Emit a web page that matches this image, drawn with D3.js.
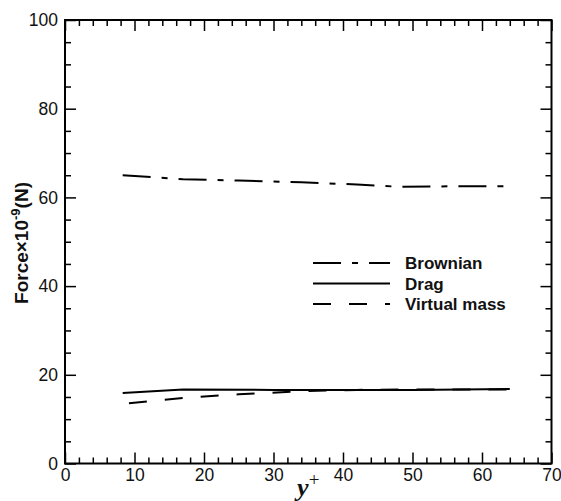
<!DOCTYPE html>
<html>
<head>
<meta charset="utf-8">
<script src="https://cdn.jsdelivr.net/npm/d3@7"></script>
<style>
body { margin: 0; background: #fff; }
svg { display: block; font-family: 'Liberation Sans', Arial, sans-serif; }
</style>
</head>
<body>
<svg width="561" height="501"></svg>
<script>
// Chart values
var brownianX = [8.3, 17, 25, 34, 42, 48, 56, 64];
var brownianY = [65.0, 64.1, 63.8, 63.4, 62.9, 62.4, 62.5, 62.5];
var dragX = [8.3, 17, 30, 40, 50, 64];
var dragY = [15.9, 16.7, 16.6, 16.6, 16.6, 16.8];
var vmassX = [9.2, 17, 25, 34, 42, 50, 64];
var vmassY = [13.6, 14.8, 15.6, 16.3, 16.6, 16.7, 16.7];

var seriesNames = ['Brownian', 'Drag', 'Virtual mass'];
var xTicks = [0, 10, 20, 30, 40, 50, 60, 70];
var yTicks = [0, 20, 40, 60, 80, 100];

var svg = d3.select('svg');
var padding = {t: 20, r: 9.5, b: 37.5, l: 65};
var svgWidth = +svg.attr('width');
var svgHeight = +svg.attr('height');

var xScale = d3.scaleLinear().domain([0, 70]).range([padding.l, svgWidth - padding.r]);
var yScale = d3.scaleLinear().domain([0, 100]).range([svgHeight - padding.b, padding.t]);

var x0 = xScale.range()[0], x1 = xScale.range()[1];
var y0 = yScale.range()[0], y1 = yScale.range()[1];

var xMinor = d3.range(0, 71, 2).filter(function(d) { return d % 10 !== 0; });
var yMinor = d3.range(0, 101, 5).filter(function(d) { return d % 20 !== 0; });

function styleAxis(g) {
    g.select('.domain').remove();
    g.selectAll('line').attr('stroke', '#000').attr('stroke-width', 1.5);
    g.selectAll('text')
        .attr('fill', '#111')
        .style('font-size', '17.5px')
        .style('font-family', "'Liberation Sans', Arial, sans-serif");
}

// bottom axis with labels
svg.append('g')
    .attr('transform', 'translate(0,' + y0 + ')')
    .call(d3.axisBottom(xScale).tickValues(xTicks).tickSizeInner(-11).tickSizeOuter(0).tickPadding(5))
    .call(styleAxis);
svg.append('g')
    .attr('transform', 'translate(0,' + y0 + ')')
    .call(d3.axisBottom(xScale).tickValues(xMinor).tickSizeInner(-6).tickSizeOuter(0).tickFormat(''))
    .call(styleAxis);

// top axis mirrored, no labels
svg.append('g')
    .attr('transform', 'translate(0,' + y1 + ')')
    .call(d3.axisTop(xScale).tickValues(xTicks).tickSizeInner(-11).tickSizeOuter(0).tickFormat(''))
    .call(styleAxis);
svg.append('g')
    .attr('transform', 'translate(0,' + y1 + ')')
    .call(d3.axisTop(xScale).tickValues(xMinor).tickSizeInner(-6).tickSizeOuter(0).tickFormat(''))
    .call(styleAxis);

// left axis with labels
svg.append('g')
    .attr('transform', 'translate(' + x0 + ',0)')
    .call(d3.axisLeft(yScale).tickValues(yTicks).tickSizeInner(-11).tickSizeOuter(0).tickPadding(7))
    .call(styleAxis);
svg.append('g')
    .attr('transform', 'translate(' + x0 + ',0)')
    .call(d3.axisLeft(yScale).tickValues(yMinor).tickSizeInner(-6).tickSizeOuter(0).tickFormat(''))
    .call(styleAxis);

// right axis mirrored
svg.append('g')
    .attr('transform', 'translate(' + x1 + ',0)')
    .call(d3.axisRight(yScale).tickValues(yTicks).tickSizeInner(-11).tickSizeOuter(0).tickFormat(''))
    .call(styleAxis);
svg.append('g')
    .attr('transform', 'translate(' + x1 + ',0)')
    .call(d3.axisRight(yScale).tickValues(yMinor).tickSizeInner(-6).tickSizeOuter(0).tickFormat(''))
    .call(styleAxis);

// frame
svg.append('rect')
    .attr('x', x0).attr('y', y1)
    .attr('width', x1 - x0).attr('height', y0 - y1)
    .attr('fill', 'none')
    .attr('stroke', '#000')
    .attr('stroke-width', 2);

var dashes = ['28,11,6,11', null, '18,18'];
var series = [
    d3.zip(brownianX, brownianY),
    d3.zip(dragX, dragY),
    d3.zip(vmassX, vmassY)
];

var line = d3.line()
    .x(function(d) { return xScale(d[0]); })
    .y(function(d) { return yScale(d[1]); });

series.forEach(function(s, i) {
    svg.append('path')
        .datum(s)
        .attr('d', line)
        .attr('fill', 'none')
        .attr('stroke', '#000')
        .attr('stroke-width', 2)
        .attr('stroke-dasharray', dashes[i]);
});

// legend
var legend = svg.append('g');
seriesNames.forEach(function(name, i) {
    var ly = 263 + i * 20.5;
    legend.append('line')
        .attr('x1', 313).attr('x2', 390)
        .attr('y1', ly).attr('y2', ly)
        .attr('stroke', '#000')
        .attr('stroke-width', 2)
        .attr('stroke-dasharray', dashes[i]);
    legend.append('text')
        .attr('x', 405).attr('y', ly + 6)
        .style('font-size', '17px')
        .style('font-weight', 'bold')
        .attr('fill', '#111')
        .text(name);
});

// axis titles
var yTitle = svg.append('text')
    .attr('transform', 'translate(28,' + 243 + ') rotate(-90)')
    .attr('text-anchor', 'middle')
    .style('font-size', '19px')
    .style('font-weight', 'bold')
    .attr('fill', '#111');
yTitle.append('tspan').text('Force×10');
yTitle.append('tspan').attr('dy', -8).style('font-size', '13px').text('-9');
yTitle.append('tspan').attr('dy', 8).text('(N)');

var xTitle = svg.append('text')
    .attr('x', xScale(35)).attr('y', 496)
    .attr('text-anchor', 'middle')
    .style('font-family', "'Liberation Serif', 'Times New Roman', serif")
    .style('font-size', '26px')
    .style('font-weight', 'bold')
    .style('font-style', 'italic')
    .attr('fill', '#111');
xTitle.append('tspan').text('y');
xTitle.append('tspan').attr('dy', -10).style('font-size', '19px').style('font-weight', 'normal').style('font-style', 'normal').text('+');
</script>
</body>
</html>
